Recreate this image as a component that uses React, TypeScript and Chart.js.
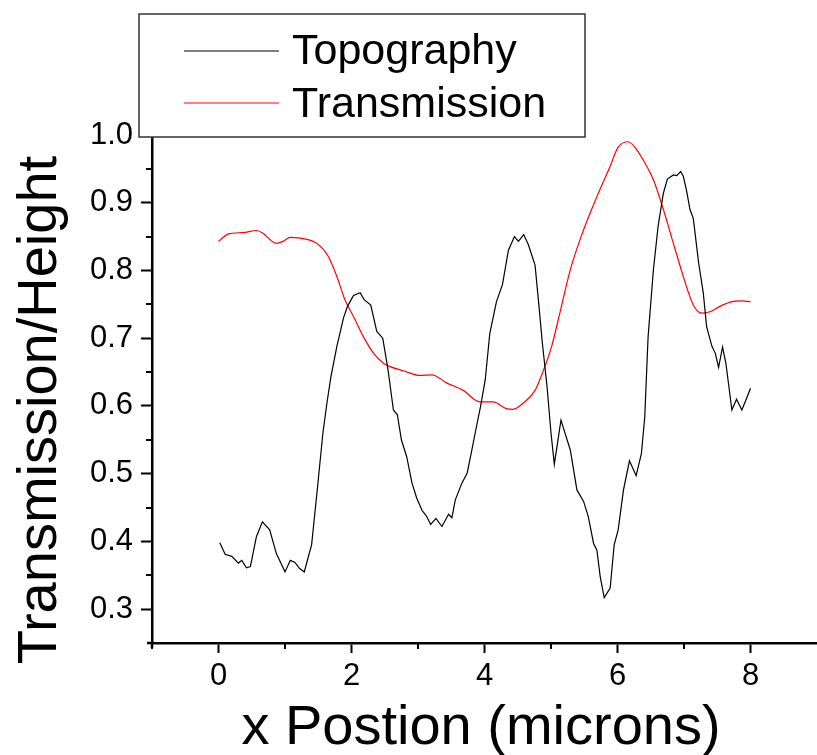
import React, { useEffect, useRef } from "react";
import { Chart, registerables } from "chart.js";

Chart.register(...registerables);

const FONT = '"Liberation Sans", Arial, Helvetica, sans-serif';

const TOPO_X = [0.02, 0.1, 0.2, 0.3, 0.35, 0.42, 0.48, 0.57, 0.66, 0.77, 0.87, 1.0, 1.08, 1.15, 1.22, 1.29, 1.35, 1.4, 1.48, 1.57, 1.63, 1.69, 1.78, 1.88, 1.94, 2.03, 2.13, 2.19, 2.29, 2.38, 2.47, 2.55, 2.63, 2.69, 2.75, 2.83, 2.91, 2.98, 3.06, 3.13, 3.19, 3.27, 3.36, 3.46, 3.51, 3.56, 3.66, 3.74, 3.81, 3.88, 3.94, 4.01, 4.08, 4.18, 4.27, 4.36, 4.45, 4.51, 4.59, 4.66, 4.76, 4.81, 4.87, 4.94, 5.0, 5.05, 5.15, 5.29, 5.39, 5.49, 5.56, 5.64, 5.69, 5.74, 5.8, 5.89, 5.95, 6.01, 6.09, 6.18, 6.28, 6.36, 6.41, 6.46, 6.54, 6.61, 6.69, 6.75, 6.84, 6.89, 6.95, 6.99, 7.04, 7.09, 7.14, 7.22, 7.29, 7.34, 7.42, 7.47, 7.52, 7.58, 7.63, 7.72, 7.79, 7.87, 7.94, 8.0];
const TOPO_Y = [0.398, 0.381, 0.378, 0.368, 0.372, 0.361, 0.363, 0.407, 0.429, 0.417, 0.382, 0.355, 0.372, 0.369, 0.36, 0.355, 0.377, 0.395, 0.471, 0.56, 0.604, 0.643, 0.688, 0.73, 0.747, 0.763, 0.767, 0.757, 0.749, 0.71, 0.7, 0.653, 0.594, 0.587, 0.55, 0.525, 0.486, 0.464, 0.446, 0.437, 0.425, 0.434, 0.422, 0.44, 0.435, 0.461, 0.486, 0.501, 0.535, 0.57, 0.599, 0.638, 0.707, 0.754, 0.779, 0.83, 0.85, 0.843, 0.853, 0.838, 0.808, 0.757, 0.693, 0.629, 0.56, 0.514, 0.579, 0.535, 0.476, 0.459, 0.437, 0.397, 0.387, 0.348, 0.317, 0.331, 0.395, 0.417, 0.476, 0.519, 0.497, 0.53, 0.584, 0.702, 0.801, 0.865, 0.914, 0.935, 0.941, 0.94, 0.946, 0.939, 0.917, 0.89, 0.877, 0.811, 0.767, 0.717, 0.688, 0.678, 0.657, 0.687, 0.663, 0.594, 0.61, 0.594, 0.611, 0.626];

const TRANS_X = [0.0, 0.15, 0.37, 0.57, 0.67, 0.87, 0.97, 1.08, 1.33, 1.48, 1.65, 1.78, 1.9, 2.03, 2.18, 2.33, 2.48, 2.58, 2.78, 3.03, 3.21, 3.43, 3.68, 3.93, 4.13, 4.33, 4.43, 4.58, 4.76, 4.88, 5.01, 5.14, 5.29, 5.49, 5.69, 5.89, 6.01, 6.16, 6.29, 6.41, 6.54, 6.69, 6.84, 6.99, 7.14, 7.27, 7.39, 7.54, 7.72, 7.87, 8.0];
const TRANS_Y = [0.843, 0.854, 0.856, 0.859, 0.855, 0.84, 0.843, 0.849, 0.846, 0.84, 0.821, 0.791, 0.757, 0.732, 0.702, 0.678, 0.663, 0.658, 0.652, 0.645, 0.646, 0.634, 0.623, 0.606, 0.606, 0.596, 0.595, 0.604, 0.623, 0.651, 0.688, 0.74, 0.801, 0.86, 0.909, 0.954, 0.982, 0.99, 0.978, 0.959, 0.934, 0.89, 0.84, 0.791, 0.749, 0.737, 0.739, 0.747, 0.754, 0.755, 0.754];

const X_TICKS = [0, 2, 4, 6, 8];
const X_MINOR = [-1, 1, 3, 5, 7];
const Y_TICKS = [0.3, 0.4, 0.5, 0.6, 0.7, 0.8, 0.9, 1.0];
const Y_MINOR = [0.35, 0.45, 0.55, 0.65, 0.75, 0.85, 0.95];

const SERIES_NAMES = ["Topography", "Transmission"];
const SERIES_COLORS = ["#000000", "#ff0000"];
const X_TITLE = "x Postion (microns)";
const Y_TITLE = "Transmission/Height";

const decorPlugin = {
  id: "decor",
  afterDraw(chart: any) {
    const ctx = chart.ctx as CanvasRenderingContext2D;
    const { left, bottom } = chart.chartArea;
    const xs = chart.scales.x;
    const ys = chart.scales.y;
    ctx.save();
    ctx.strokeStyle = "#000";
    ctx.lineWidth = 2;
    for (const v of X_MINOR) {
      const px = Math.round(xs.getPixelForValue(v));
      ctx.beginPath();
      ctx.moveTo(px, bottom);
      ctx.lineTo(px, bottom + 6);
      ctx.stroke();
    }
    for (const v of Y_MINOR) {
      const py = Math.round(ys.getPixelForValue(v));
      ctx.beginPath();
      ctx.moveTo(left, py);
      ctx.lineTo(left - 6, py);
      ctx.stroke();
    }
    // small axis corner extension
    ctx.lineWidth = 2.5;
    ctx.beginPath();
    ctx.moveTo(left, bottom);
    ctx.lineTo(left, bottom + 5);
    ctx.moveTo(left, bottom);
    ctx.lineTo(left - 5, bottom);
    ctx.stroke();

    // axis titles
    ctx.fillStyle = "#000";
    ctx.font = `56px ${FONT}`;
    ctx.textAlign = "center";
    ctx.textBaseline = "alphabetic";
    ctx.fillText(X_TITLE, 481, 744);
    ctx.save();
    ctx.translate(56, 410);
    ctx.rotate(-Math.PI / 2);
    ctx.fillText(Y_TITLE, 0, 0);
    ctx.restore();

    // legend box
    ctx.fillStyle = "#fff";
    ctx.fillRect(139, 14, 446, 123);
    ctx.strokeStyle = "#333";
    ctx.lineWidth = 1.5;
    ctx.strokeRect(139, 14, 446, 123);
    const rows = [51, 103];
    const bases = [64, 117];
    ctx.font = `43px ${FONT}`;
    ctx.textAlign = "left";
    for (let i = 0; i < SERIES_NAMES.length; i++) {
      ctx.strokeStyle = SERIES_COLORS[i];
      ctx.lineWidth = 1.2;
      ctx.beginPath();
      ctx.moveTo(184, rows[i]);
      ctx.lineTo(279, rows[i]);
      ctx.stroke();
      ctx.fillStyle = "#000";
      ctx.fillText(SERIES_NAMES[i], 292, bases[i]);
    }
    ctx.restore();
  },
};

export default function App() {
  const ref = useRef<HTMLCanvasElement>(null);
  useEffect(() => {
    document.body.style.margin = "0";
    const topo = TOPO_X.map((x, i) => ({ x, y: TOPO_Y[i] }));
    const trans = TRANS_X.map((x, i) => ({ x, y: TRANS_Y[i] }));
    const chart = new Chart(ref.current!, {
      type: "line",
      data: {
        datasets: [
          {
            label: SERIES_NAMES[0],
            data: topo,
            borderColor: SERIES_COLORS[0],
            borderWidth: 1.2,
            pointRadius: 0,
            tension: 0,
            fill: false,
          },
          {
            label: SERIES_NAMES[1],
            data: trans,
            borderColor: SERIES_COLORS[1],
            borderWidth: 1.2,
            pointRadius: 0,
            cubicInterpolationMode: "monotone",
            fill: false,
          },
        ],
      },
      options: {
        responsive: false,
        animation: false,
        devicePixelRatio: 1,
        layout: { padding: { top: 135, left: 0, right: 0, bottom: 0 } },
        plugins: { legend: { display: false }, tooltip: { enabled: false } },
        scales: {
          x: {
            type: "linear",
            min: -1,
            max: 9,
            afterBuildTicks: (s: any) => {
              s.ticks = X_TICKS.map((v) => ({ value: v }));
            },
            afterFit: (s: any) => {
              s.height = 112;
            },
            border: { display: true, color: "#000", width: 2.5 },
            grid: {
              display: true,
              drawOnChartArea: false,
              drawTicks: true,
              tickLength: 10,
              tickWidth: 2,
              tickColor: "#000",
            },
            ticks: {
              color: "#000",
              font: { size: 31, family: FONT },
              padding: 5,
              maxRotation: 0,
              autoSkip: false,
              callback: (v: any) => String(v),
            },
          },
          y: {
            type: "linear",
            min: 0.25,
            max: 1.0,
            afterBuildTicks: (s: any) => {
              s.ticks = Y_TICKS.map((v) => ({ value: v }));
            },
            afterFit: (s: any) => {
              s.width = 152;
            },
            border: { display: true, color: "#000", width: 2.5 },
            grid: {
              display: true,
              drawOnChartArea: false,
              drawTicks: true,
              tickLength: 11,
              tickWidth: 2,
              tickColor: "#000",
            },
            ticks: {
              color: "#000",
              font: { size: 31, family: FONT },
              padding: 8,
              autoSkip: false,
              callback: (v: any) => Number(v).toFixed(1),
            },
          },
        },
      },
      plugins: [decorPlugin],
    });
    return () => chart.destroy();
  }, []);
  return (
    <div style={{ position: "absolute", left: 0, top: 0, width: 817, height: 755, background: "#fff" }}>
      <canvas ref={ref} width={817} height={755} style={{ display: "block", width: 817, height: 755 }} />
    </div>
  );
}
